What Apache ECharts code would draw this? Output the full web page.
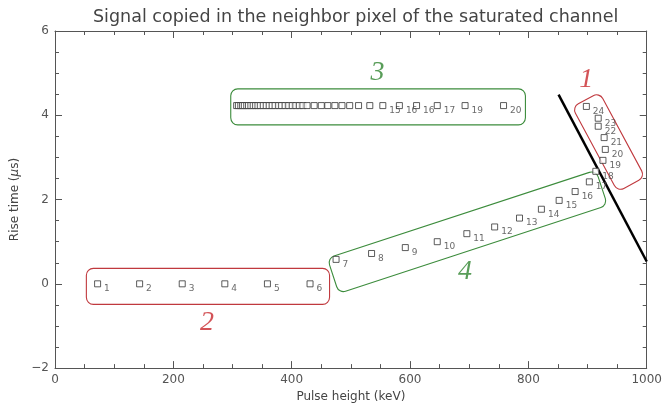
<!DOCTYPE html>
<html>
<head>
<meta charset="utf-8">
<script src="https://cdn.jsdelivr.net/npm/echarts@6/dist/echarts.min.js"></script>
<style>
  html, body { margin: 0; padding: 0; background: #fff; }
  #chart { width: 665px; height: 408px; }
</style>
</head>
<body>
<div id="chart"></div>
<script>
// group 2: flat row at zero
var g2X = [72, 143, 215, 287, 359, 431];
var g2Y = [0, 0, 0, 0, 0, 0];
var g2Labels = ["1", "2", "3", "4", "5", "6"];

// group 3: saturated row near 4.2
var g3X = [307, 310, 314, 317, 320, 324, 327, 331, 335, 339, 343, 347, 352, 357, 362, 367, 372, 378, 383, 389,
           395, 401, 407, 413, 419, 426, 438, 450, 461, 473, 485, 498, 513, 532, 554, 582, 611, 646, 693, 758];
var g3Y = [4.23, 4.23, 4.23, 4.23, 4.23, 4.23, 4.23, 4.23, 4.23, 4.23, 4.23, 4.23, 4.23, 4.23, 4.23, 4.23, 4.23, 4.23, 4.23, 4.23,
           4.23, 4.23, 4.23, 4.23, 4.23, 4.23, 4.23, 4.23, 4.23, 4.23, 4.23, 4.23, 4.23, 4.23, 4.23, 4.23, 4.23, 4.23, 4.23, 4.23];
var g3Labels = ["", "", "", "", "", "", "", "", "", "", "", "", "", "", "", "", "", "", "", "",
                "", "", "", "", "", "", "", "", "", "", "", "", "", "", "15", "16", "16", "17", "19", "20"];

// group 4: rising diagonal
var g4X = [475, 535, 592, 646, 696, 743, 785, 822, 852, 879, 903];
var g4Y = [0.58, 0.72, 0.86, 1.00, 1.19, 1.35, 1.56, 1.77, 1.98, 2.19, 2.42];
var g4Labels = ["7", "8", "9", "10", "11", "12", "13", "14", "15", "16", "17"];

// group 1: past the cut
var g1X = [914, 926, 930, 928, 918, 918, 898];
var g1Y = [2.67, 2.93, 3.19, 3.47, 3.74, 3.93, 4.21];
var g1Labels = ["18", "19", "20", "21", "22", "23", "24"];

// black cut line
var cutX = [851, 1000];
var cutY = [4.49, 0.53];

var xTicks = [0, 200, 400, 600, 800, 1000];
var yTicks = [-2, 0, 2, 4, 6];

function pts(xs, ys, labels) {
    var out = [];
    for (var i = 0; i < xs.length; i++) {
        out.push([xs[i], ys[i], labels ? labels[i] : ""]);
    }
    return out;
}

var red = "#c8282d";
var green = "#2f852f";
var boxColors = ["#c0393e", "#3c8c3c"];

// box annotations: long axis ends (data), thickness px, colour index
var boxes = [
    [53, -0.06, 464, -0.06, 36, 0],
    [297, 4.2, 795, 4.2, 36, 1],
    [470, 0.19, 924, 2.28, 37, 1],
    [897, 4.37, 974, 2.36, 31, 0]
];

var groupNames = [
    { value: [898, 4.84, "1"], label: { color: red } },
    { value: [257, -0.93, "2"], label: { color: red } },
    { value: [545, 5.0, "3"], label: { color: green } },
    { value: [693, 0.3, "4"], label: { color: green } }
];

function renderBox(params, api) {
    var p1 = api.coord([api.value(0), api.value(1)]);
    var p2 = api.coord([api.value(2), api.value(3)]);
    var dx = p2[0] - p1[0], dy = p2[1] - p1[1];
    var len = Math.sqrt(dx * dx + dy * dy);
    var h = api.value(4);
    return {
        type: "rect",
        x: (p1[0] + p2[0]) / 2,
        y: (p1[1] + p2[1]) / 2,
        rotation: -Math.atan2(dy, dx),
        shape: { x: -len / 2, y: -h / 2, width: len, height: h, r: 7 },
        style: { fill: "none", stroke: boxColors[api.value(5)], lineWidth: 1.1 }
    };
}

var pointStyle = {
    type: "scatter",
    symbol: "rect",
    symbolSize: 6,
    itemStyle: { color: "#fff", borderColor: "#333", borderWidth: 1 },
    label: {
        show: true,
        position: [10, 4],
        fontSize: 9,
        color: "#444",
        fontFamily: "DejaVu Sans"
    },
    emphasis: { disabled: true },
    z: 3
};

function labelText(p) { return p.value[2]; }

function scatterSeries(name, data) {
    var s = JSON.parse(JSON.stringify(pointStyle));
    s.name = name;
    s.data = data;
    s.label.formatter = labelText;
    return s;
}

var axisCommon = {
    type: "value",
    axisLine: { onZero: false, lineStyle: { color: "#555", width: 1 } },
    axisTick: { inside: true, length: 7, lineStyle: { color: "#555" } },
    minorTick: { show: true, splitNumber: 4, length: 4, lineStyle: { color: "#555" } },
    splitLine: { show: false }
};

var chart = echarts.init(document.getElementById("chart"));
var option = {
    animation: false,
    title: {
        text: "Signal copied in the neighbor pixel of the saturated channel",
        left: 88,
        top: 3,
        textStyle: { fontSize: 17.5, fontWeight: "normal", color: "#444", fontFamily: "DejaVu Sans" }
    },
    grid: { left: 55, right: 14, top: 31, bottom: 33 },
    xAxis: [
        Object.assign({}, axisCommon, {
            position: "bottom",
            min: xTicks[0], max: xTicks[xTicks.length - 1], interval: 200,
            name: "Pulse height (keV)",
            nameLocation: "middle",
            nameGap: 21,
            nameTextStyle: { fontSize: 12, color: "#444", fontFamily: "DejaVu Sans" },
            axisLabel: {
                margin: 6, fontSize: 12, color: "#555", fontFamily: "DejaVu Sans",
                formatter: function(v) { return String(v); }
            }
        }),
        Object.assign({}, axisCommon, {
            position: "top",
            min: xTicks[0], max: xTicks[xTicks.length - 1], interval: 200,
            axisLabel: { show: false }
        })
    ],
    yAxis: [
        Object.assign({}, axisCommon, {
            position: "left",
            min: yTicks[0], max: yTicks[yTicks.length - 1], interval: 2,
            name: "Rise time ({i|μ}s)",
            nameLocation: "middle",
            nameGap: 32,
            nameTextStyle: {
                fontSize: 12, color: "#444", fontFamily: "DejaVu Sans",
                rich: { i: { fontSize: 12, color: "#444", fontStyle: "italic", fontFamily: "DejaVu Sans" } }
            },
            axisLabel: {
                margin: 6, fontSize: 12, color: "#555", fontFamily: "DejaVu Sans",
                formatter: function(v) { return String(v).replace("-", "\u2212"); }
            }
        }),
        Object.assign({}, axisCommon, {
            position: "right",
            min: yTicks[0], max: yTicks[yTicks.length - 1], interval: 2,
            axisLabel: { show: false }
        })
    ],
    series: [
        {
            type: "custom",
            name: "boxes",
            renderItem: renderBox,
            data: boxes,
            clip: false,
            silent: true,
            z: 1
        },
        {
            type: "line",
            name: "cut",
            data: pts(cutX, cutY),
            symbol: "none",
            lineStyle: { color: "#000", width: 2.5 },
            z: 2
        },
        scatterSeries("group 2", pts(g2X, g2Y, g2Labels)),
        scatterSeries("group 3", pts(g3X, g3Y, g3Labels)),
        scatterSeries("group 4", pts(g4X, g4Y, g4Labels)),
        scatterSeries("group 1", pts(g1X, g1Y, g1Labels)),
        {
            type: "scatter",
            name: "group names",
            data: groupNames,
            symbolSize: 0,
            label: {
                show: true,
                position: "inside",
                fontSize: 28,
                fontStyle: "italic",
                fontFamily: "Liberation Serif",
                formatter: labelText
            },
            z: 4
        }
    ]
};
chart.setOption(option);
</script>
</body>
</html>
